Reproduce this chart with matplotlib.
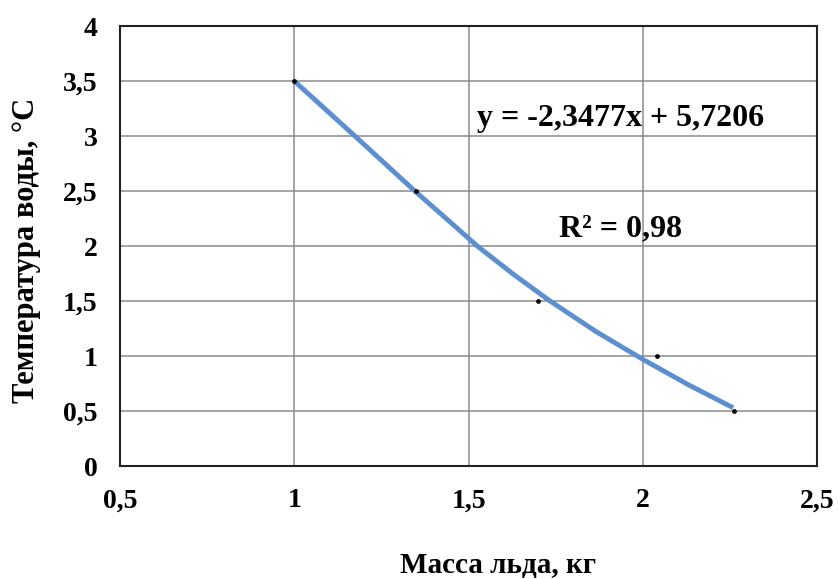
import matplotlib
matplotlib.use("Agg")
from matplotlib import pyplot as plt

# measured points (black dots)
mass = [1.0, 1.35, 1.7, 2.04, 2.26]
temp = [3.5, 2.5, 1.5, 1.0, 0.5]

# smoothed blue curve
curve_x = [1.0, 1.174, 1.346, 1.418, 1.525, 1.63, 1.734, 1.867, 2.0, 2.13, 2.259]
curve_y = [3.5, 3.0, 2.5, 2.30, 2.0, 1.74, 1.5, 1.22, 0.97, 0.74, 0.53]

x_ticks = [0.5, 1, 1.5, 2, 2.5]
x_labels = ["0,5", "1", "1,5", "2", "2,5"]
y_ticks = [0, 0.5, 1, 1.5, 2, 2.5, 3, 3.5, 4]
y_labels = ["0", "0,5", "1", "1,5", "2", "2,5", "3", "3,5", "4"]

plt.rcParams["font.family"] = ["Liberation Serif", "DejaVu Serif"]
plt.rcParams["font.weight"] = "bold"

fig = plt.figure(figsize=(8.39, 5.79), dpi=100)
ax = fig.add_axes([0.143, 0.195, 0.831, 0.760])

ax.plot(curve_x, curve_y, color="#5B8FD0", linewidth=3.5, solid_capstyle="butt", zorder=3)
ax.plot(mass, temp, "o", color="black", markersize=2.4, zorder=4)

ax.set_xlim(0.5, 2.5)
ax.set_ylim(0, 4)
ax.set_xticks(x_ticks)
ax.set_xticklabels(x_labels)
ax.set_yticks(y_ticks)
ax.set_yticklabels(y_labels)
ax.tick_params(length=0, labelsize=20, pad=16)
ax.tick_params(axis="x", pad=16)
for lab in ax.get_xticklabels() + ax.get_yticklabels():
    lab.set_fontweight("bold")

ax.grid(True, color="#8c8c8c", linewidth=1.1)
ax.set_axisbelow(True)
for s in ax.spines.values():
    s.set_color("#222222")
    s.set_linewidth(1.5)

ax.text(1.524, 3.16, "y = -2,3477x + 5,7206", fontsize=23, fontweight="bold",
        ha="left", va="center")
ax.text(1.935, 2.16, "R² = 0,98", fontsize=23, fontweight="bold",
        ha="center", va="center")

fig.text(498 / 839, 1 - 566 / 579, "Масса льда, кг", fontsize=21,
         fontweight="bold", ha="center", va="center")
fig.text(27 / 839, 1 - 250 / 579, "Температура воды, °С", fontsize=22,
         fontweight="bold", ha="center", va="center", rotation=90)

fig.savefig("out.png", dpi=100)
